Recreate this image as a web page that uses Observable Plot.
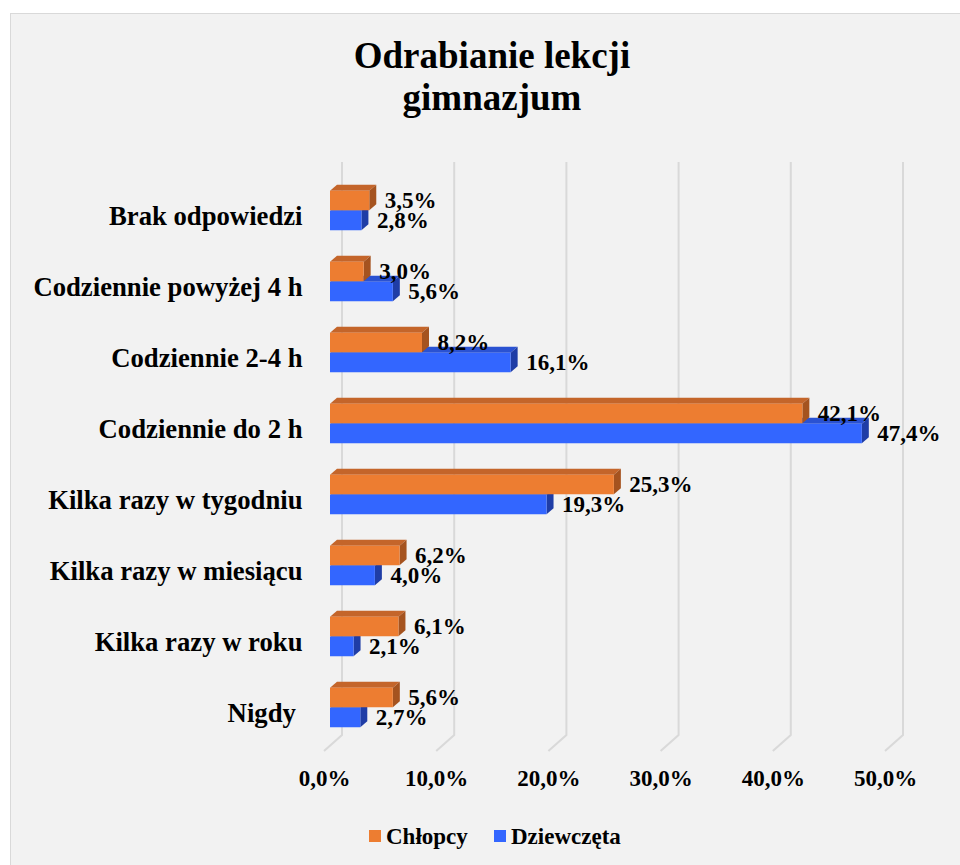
<!DOCTYPE html>
<html>
<head>
<meta charset="utf-8">
<script src="https://cdn.jsdelivr.net/npm/d3@7"></script>
<script src="https://cdn.jsdelivr.net/npm/@observablehq/plot@0.6"></script>
<style>
html, body { margin:0; padding:0; background:#ffffff; width:960px; height:865px; overflow:hidden; }
#frame { position:absolute; left:10px; top:13px; width:1000px; height:900px; background:#f2f2f2; border:1px solid #d9d9d9; box-sizing:border-box; }
#title { position:absolute; left:0; top:34.5px; width:984px; text-align:center; font-family:"Liberation Serif","Times New Roman",serif; font-weight:bold; font-size:37px; line-height:42px; color:#000; }
#chart { position:absolute; left:0; top:0; }
#chart svg, #chart svg text { font-family:"Liberation Serif","Times New Roman",serif !important; }
.lg-sw { position:absolute; width:12px; height:12px; top:830px; }
.lg-tx { position:absolute; top:825px; font-family:"Liberation Serif","Times New Roman",serif; font-weight:bold; font-size:23px; line-height:23px; color:#000; white-space:nowrap; }
</style>
</head>
<body>
<div id="frame"></div>
<div id="title">Odrabianie lekcji<br>gimnazjum</div>
<div id="chart"></div>
<div id="legend"></div>
<script>
// ---- data ----
const categories = ["Brak odpowiedzi", "Codziennie powyżej 4 h", "Codziennie 2-4 h", "Codziennie do 2 h", "Kilka razy w tygodniu", "Kilka razy w miesiącu", "Kilka razy w roku", "Nigdy "];
const chlopcy = [3.5, 3.0, 8.2, 42.1, 25.3, 6.2, 6.1, 5.6];
const dziewczeta = [2.8, 5.6, 16.1, 47.4, 19.3, 4.0, 2.1, 2.7];
const seriesNames = ["Chłopcy", "Dziewczęta"];
const xTicks = [0, 10, 20, 30, 40, 50];

// ---- styles ----
const colors = {
  "Chłopcy": {front: "#ED7D31", top: "#C4652A", side: "#A5531F"},
  "Dziewczęta": {front: "#3366FF", top: "#2A52D2", side: "#1F3DA6"}
};
const FONT = "Liberation Serif";
const yRange = [178, 750];
const step = (yRange[1] - yRange[0]) / categories.length;
const barH = 20, pairShift = -5; // boundary between the two bars relative to band centre
const depthX = 7, depthY = 6;
const fmt = v => v.toFixed(1).replace(".", ",") + "%";

const rowsC = categories.map((c, i) => ({cat: c, value: chlopcy[i], series: seriesNames[0]}));
const rowsD = categories.map((c, i) => ({cat: c, value: dziewczeta[i], series: seriesNames[1]}));

// insets (top bar = Chłopcy, lower bar = Dziewczęta)
const insC = {top: step / 2 + pairShift - barH, bottom: step / 2 - pairShift};
const insD = {top: step / 2 + pairShift, bottom: step / 2 - pairShift - barH};

function bandStep(y) {
  return y.bandwidth ? y.bandwidth() : (y(categories[1]) - y(categories[0]));
}

// 3D faces (top & right side) drawn with the plot's scales
function faces(rows, ins, col) {
  return function(index, scales) {
    const x = scales.x, y = scales.y;
    const bw = bandStep(y);
    const g = d3.create("svg:g");
    for (const r of rows) {
      const y0 = y(r.cat);
      const t = y0 + ins.top, b = y0 + bw - ins.bottom;
      const x1 = x(0), x2 = x(r.value);
      g.append("path").attr("fill", col.top)
        .attr("d", `M${x1},${t}L${x1 + depthX},${t - depthY}L${x2 + depthX},${t - depthY}L${x2},${t}Z`);
      g.append("path").attr("fill", col.side)
        .attr("d", `M${x2},${t}L${x2 + depthX},${t - depthY}L${x2 + depthX},${b - depthY}L${x2},${b}Z`);
    }
    return g.node();
  };
}

// back-wall gridlines with floor diagonal
function grid(index, scales, values, dim) {
  const x = scales.x;
  const g = d3.create("svg:g").attr("fill", "none").attr("stroke", "#d9d9d9").attr("stroke-width", 2);
  const bottom = dim.height - dim.marginBottom;
  for (const t of xTicks) {
    const px = x(t);
    g.append("path").attr("d", `M${px + 12},${dim.marginTop}V${bottom - 16}L${px - 6},${bottom}`);
  }
  return g.node();
}

const textOpts = {fontFamily: FONT, fontWeight: "bold", fill: "#000"};

const plot = Plot.plot({
  width: 960,
  height: 800,
  marginLeft: 330,
  marginRight: 69,
  marginTop: 162,
  marginBottom: 49,
  style: {background: "transparent", fontFamily: FONT, color: "#000", overflow: "visible"},
  x: {domain: [0, 50], range: [330, 891]},
  y: {domain: categories, range: yRange, padding: 0},
  marks: [
    grid,
    faces(rowsD, insD, colors["Dziewczęta"]),
    Plot.barX(rowsD, {x: "value", y: "cat", fill: colors["Dziewczęta"].front, insetTop: insD.top, insetBottom: insD.bottom}),
    faces(rowsC, insC, colors["Chłopcy"]),
    Plot.barX(rowsC, {x: "value", y: "cat", fill: colors["Chłopcy"].front, insetTop: insC.top, insetBottom: insC.bottom}),
    Plot.text(rowsC, {x: "value", y: "cat", text: d => fmt(d.value), textAnchor: "start", dx: 15, dy: pairShift - barH / 2, fontSize: 23, ...textOpts}),
    Plot.text(rowsD, {x: "value", y: "cat", text: d => fmt(d.value), textAnchor: "start", dx: 15, dy: pairShift + barH / 2, fontSize: 23, ...textOpts}),
    Plot.axisY({tickSize: 0, tickPadding: 28, fontSize: 26.7, ...textOpts, label: null, tickFormat: d => d.replace(/ $/, "\u00a0")}),
    Plot.axisX({ticks: xTicks, tickSize: 0, tickPadding: 18, fontSize: 23, ...textOpts, dx: -6, label: null, tickFormat: fmt})
  ]
});
document.getElementById("chart").appendChild(plot);

// legend
const legend = document.getElementById("legend");
const lgPos = [{sw: 369, tx: 386}, {sw: 494, tx: 511}];
seriesNames.forEach((s, i) => {
  const sw = document.createElement("div");
  sw.className = "lg-sw"; sw.style.left = lgPos[i].sw + "px"; sw.style.background = colors[s].front;
  const tx = document.createElement("div");
  tx.className = "lg-tx"; tx.style.left = lgPos[i].tx + "px"; tx.textContent = s;
  legend.appendChild(sw); legend.appendChild(tx);
});
</script>
</body>
</html>
